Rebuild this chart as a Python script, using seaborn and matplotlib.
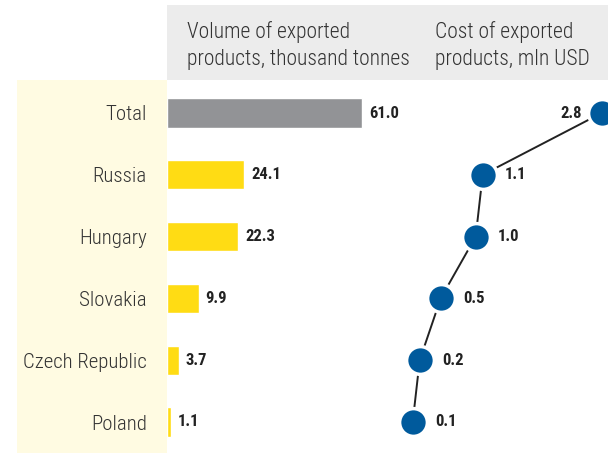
import matplotlib
matplotlib.use("Agg")
import matplotlib.pyplot as plt
from matplotlib.patches import Rectangle
import seaborn as sns
import pandas as pd

sns.set_theme(style="white")
plt.rcParams["font.family"] = ["Roboto Condensed", "DejaVu Sans"]

# Data
countries = ["Total", "Russia", "Hungary", "Slovakia", "Czech Republic", "Poland"]
volume = [61.0, 24.1, 22.3, 9.9, 3.7, 1.1]          # thousand tonnes
cost = [2.8, 1.1, 1.0, 0.5, 0.2, 0.1]               # mln USD
header_volume = ["Volume of exported", "products, thousand tonnes"]
header_cost = ["Cost of exported", "products, mln USD"]

df = pd.DataFrame({"country": countries, "volume": volume, "cost": cost,
                   "row": range(len(countries))})

W, H = 608, 453
fig = plt.figure(figsize=(W / 100, H / 100), dpi=100)
fig.patch.set_facecolor("white")

def fx(px):
    return px / W

def fy(py):
    return 1 - py / H

# Background panels: grey header band and pale-yellow label column
fig.patches.append(Rectangle((fx(167), fy(80)), fx(W - 167), (80 - 5) / H,
                             transform=fig.transFigure, facecolor="#ececec",
                             edgecolor="none", zorder=-5))
fig.patches.append(Rectangle((fx(17), 0), fx(150), fy(80),
                             transform=fig.transFigure, facecolor="#fffbe2",
                             edgecolor="none", zorder=-5))

# Header text
text_color = "#333333"
for x0, lines in [(187, header_volume), (435, header_cost)]:
    for i, line in enumerate(lines):
        fig.text(fx(x0), fy(38 + 27 * i), line, fontsize=15.5, color=text_color,
                 fontweight="light", ha="left", va="baseline")

# Row geometry
row_top, row_step = 113, 61.8
top_px, bot_px = 80, H
ylim = ((bot_px - row_top) / row_step, (top_px - row_top) / row_step)

# Bar axis: 3.2 px per thousand tonnes, starting at x=167
bar_left, bar_right = 167, 405
ax_bar = fig.add_axes([fx(bar_left), 0, fx(bar_right - bar_left), fy(top_px)])
ax_bar.set_facecolor("none")
palette = ["#929396"] + ["#ffdc14"] * (len(countries) - 1)
sns.barplot(data=df, x="volume", y="country", hue="country", palette=palette,
            orient="h", width=0.47, legend=False, ax=ax_bar, saturation=1)
ax_bar.set_xlim(0, (bar_right - bar_left) / 3.2)
ax_bar.set_ylim(*ylim)
ax_bar.set_xlabel("")
ax_bar.set_ylabel("")
ax_bar.set_xticks([])
ax_bar.tick_params(axis="y", length=0, pad=14.5, labelsize=15, labelcolor=text_color)
for lab in ax_bar.get_yticklabels():
    lab.set_fontweight("light")
for s in ax_bar.spines.values():
    s.set_visible(False)
for i, v in enumerate(volume):
    ax_bar.annotate(f"{v:.1f}", (v, i), xytext=(5, 0), textcoords="offset points",
                    ha="left", va="center", fontsize=12, fontweight="bold",
                    color="#222222")

# Dot axis: 70 px per mln USD, zero at x=405.7
dot_left = 405.7
ax_dot = fig.add_axes([fx(dot_left), 0, fx(W - dot_left), fy(top_px)])
ax_dot.set_facecolor("none")
ax_dot.axis("off")
sns.lineplot(data=df, x="cost", y="row", orient="y", sort=False, color="#222222",
             linewidth=1.4, ax=ax_dot, zorder=2)
sns.scatterplot(data=df, x="cost", y="row", s=400, color="#005a9c",
                edgecolor="white", linewidth=2.5, ax=ax_dot, zorder=3, clip_on=False)
ax_dot.set_xlim(0, (W - dot_left) / 70)
ax_dot.set_ylim(*ylim)
for i, v in enumerate(cost):
    if i == 0:
        ax_dot.annotate(f"{v:.1f}", (v, i), xytext=(-14.5, 0), textcoords="offset points",
                        ha="right", va="center", fontsize=12, fontweight="bold",
                        color="#222222")
    else:
        ax_dot.annotate(f"{v:.1f}", (v, i), xytext=(16, 0), textcoords="offset points",
                        ha="left", va="center", fontsize=12, fontweight="bold",
                        color="#222222")

fig.savefig("out.png", dpi=100)
